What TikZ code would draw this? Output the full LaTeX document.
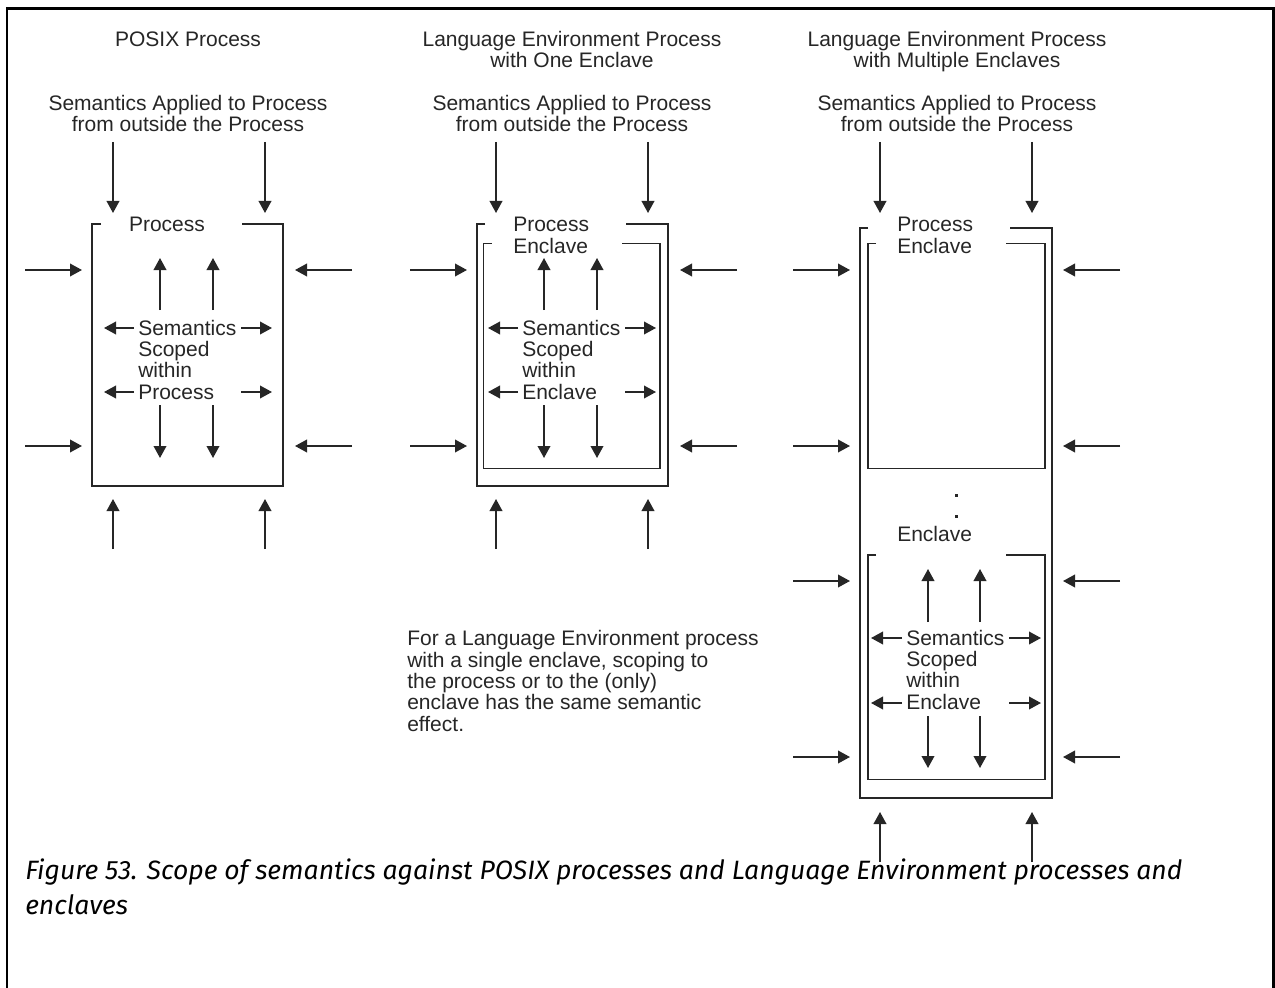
\documentclass[tikz,border=0pt]{standalone}
\usepackage{fontspec}
\setmainfont{Liberation Sans}
\newfontfamily\capfont{Fira Sans}
\usetikzlibrary{arrows.meta}
\definecolor{ink}{HTML}{262626}
\newcommand\myarr[4]{\draw[arr] (#1,#2) -- (#3,#4);}
\begin{document}
\begin{tikzpicture}[x=0.75pt,y=-0.75pt,
  arr/.style={draw=ink,line width=1.2pt,-{Triangle[length=9pt,width=9.5pt]}},
  edge/.style={draw=ink,line width=1.2pt},
  lbl/.style={text=ink,inner sep=0pt,font=\fontsize{15.75}{16}\selectfont},
  frame/.style={draw=black,line width=2pt}]
\useasboundingbox (0,0) rectangle (1275,988);
% frame
\draw[frame] (7,988) -- (7,8.5) -- (1273.5,8.5) -- (1273.5,988);
% (multi-line nodes are anchored at the baseline of their last line)

% ===== Panel 1: POSIX =====
\node[lbl,anchor=base] (t1) at (188,46.5) {POSIX Process};
\node[lbl,anchor=base,align=center] (s1) at (188,131.5) {Semantics Applied to Process\\from outside the Process};
\myarr{113}{142}{113}{213}
\myarr{265}{142}{265}{213}
\draw[edge] (101,224) -- (92,224) -- (92,486) -- (283,486) -- (283,224) -- (242,224);
\node[lbl,anchor=base] (p1) at (167,231.7) {Process};
\myarr{25}{270}{82}{270}
\myarr{25}{446}{82}{446}
\myarr{352}{270}{295}{270}
\myarr{352}{446}{295}{446}
\myarr{113}{549}{113}{499}
\myarr{265}{549}{265}{499}
\myarr{160}{310}{160}{258}
\myarr{213}{310}{213}{258}
\node[lbl,anchor=base west,align=left] (i1) at (138,399) {Semantics\\Scoped\\within\\Process};
\myarr{134}{328}{104}{328}
\myarr{241}{328}{272}{328}
\myarr{134}{392}{104}{392}
\myarr{241}{392}{272}{392}
\myarr{160}{405}{160}{458}
\myarr{213}{405}{213}{458}

% ===== Panel 2: one enclave =====
\node[lbl,anchor=base,align=center] (t2) at (572,68) {Language Environment Process\\with One Enclave};
\node[lbl,anchor=base,align=center] (s2) at (572,131.5) {Semantics Applied to Process\\from outside the Process};
\myarr{496}{142}{496}{213}
\myarr{648}{142}{648}{213}
\draw[edge] (485,224) -- (477,224) -- (477,486) -- (668,486) -- (668,224) -- (626,224);
\draw[edge] (491.5,243.5) -- (483.5,243.5) -- (483.5,468.5) -- (660,468.5) -- (660,243.5) -- (621.5,243.5);
\node[lbl,anchor=base west,align=left] (p2) at (513,253) {Process\\Enclave};
\myarr{410}{270}{467}{270}
\myarr{410}{446}{467}{446}
\myarr{737}{270}{680}{270}
\myarr{737}{446}{680}{446}
\myarr{496}{549}{496}{499}
\myarr{648}{549}{648}{499}
\myarr{544}{310}{544}{258}
\myarr{597}{310}{597}{258}
\node[lbl,anchor=base west,align=left] (i2) at (522,399) {Semantics\\Scoped\\within\\Enclave};
\myarr{518}{328}{488}{328}
\myarr{625}{328}{656}{328}
\myarr{518}{392}{488}{392}
\myarr{625}{392}{656}{392}
\myarr{544}{405}{544}{458}
\myarr{597}{405}{597}{458}
\node[lbl,anchor=base west,align=left] (note) at (407,731) {For a Language Environment process\\with a single enclave, scoping to\\the process or to the (only)\\enclave has the same semantic\\effect.};

% ===== Panel 3: multiple enclaves =====
\node[lbl,anchor=base,align=center] (t3) at (957,68) {Language Environment Process\\with Multiple Enclaves};
\node[lbl,anchor=base,align=center] (s3) at (957,131.5) {Semantics Applied to Process\\from outside the Process};
\myarr{880}{142}{880}{213}
\myarr{1032}{142}{1032}{213}
\draw[edge] (868,228) -- (860,228) -- (860,798) -- (1052,798) -- (1052,228) -- (1010,228);
\draw[edge] (876,243.5) -- (868,243.5) -- (868,468.5) -- (1045,468.5) -- (1045,243.5) -- (1006,243.5);
\node[lbl,anchor=base west,align=left] (p3) at (897,253) {Process\\Enclave};
\myarr{793}{270}{850}{270}
\myarr{793}{446}{850}{446}
\myarr{1120}{270}{1063}{270}
\myarr{1120}{446}{1063}{446}
\fill[ink] (954.5,493.5) rectangle (957.5,496.5);
\fill[ink] (954.5,514.5) rectangle (957.5,517.5);
\node[lbl,anchor=base west] (e3) at (897,541.7) {Enclave};
\draw[edge] (876,555) -- (868,555) -- (868,779.5) -- (1045,779.5) -- (1045,555) -- (1006,555);
\myarr{793}{581}{850}{581}
\myarr{793}{757}{850}{757}
\myarr{1120}{581}{1063}{581}
\myarr{1120}{757}{1063}{757}
\myarr{928}{622}{928}{569}
\myarr{980}{622}{980}{569}
\node[lbl,anchor=base west,align=left] (i3) at (906,709.3) {Semantics\\Scoped\\within\\Enclave};
\myarr{902}{638}{871}{638}
\myarr{1009}{638}{1041}{638}
\myarr{902}{703}{871}{703}
\myarr{1009}{703}{1041}{703}
\myarr{928}{716}{928}{768}
\myarr{980}{716}{980}{768}
\myarr{880}{862}{880}{812}
\myarr{1032}{862}{1032}{812}

% ===== Caption =====
\node[anchor=base west,align=left,inner sep=0pt,font=\capfont\itshape\fontsize{19.9}{26.25}\selectfont] (cap) at (25,914) {Figure 53. Scope of semantics against POSIX processes and Language Environment processes and\\enclaves};
\end{tikzpicture}
\end{document}
